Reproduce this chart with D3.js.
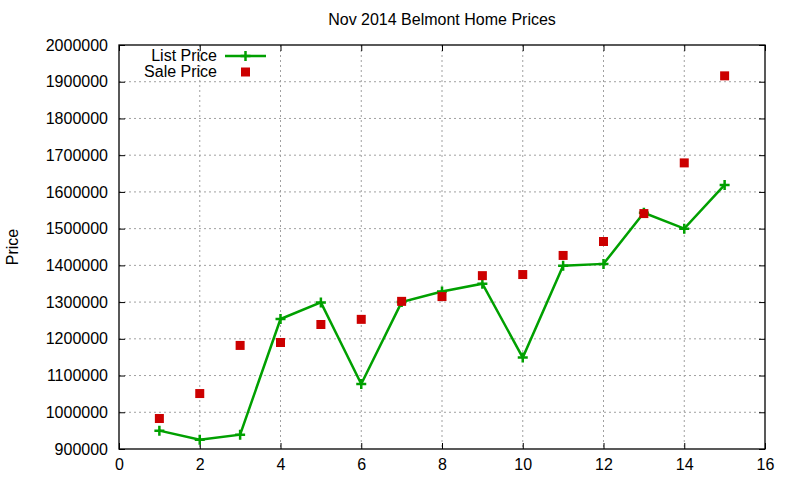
<!DOCTYPE html>
<html><head><meta charset="utf-8">
<script src="https://cdn.jsdelivr.net/npm/d3@7"></script>
<style>body{margin:0;background:#fff}svg{display:block}text{font-family:"Liberation Sans",Arial,sans-serif}</style>
</head><body><svg id="c" width="800" height="480"></svg>
<script>
const xs = [1,2,3,4,5,6,7,8,9,10,11,12,13,14,15];
const listPrice = [950000,925000,939000,1254000,1299000,1077000,1300000,1329000,1350000,1149000,1399000,1404000,1543000,1500000,1619000];
const salePrice = [983000,1051000,1182000,1190000,1239000,1253000,1302000,1315000,1372000,1375000,1427000,1465000,1541000,1679000,1916000];
const xTicks = [0,2,4,6,8,10,12,14,16];
const yTicks = [900000,1000000,1100000,1200000,1300000,1400000,1500000,1600000,1700000,1800000,1900000,2000000];
const title = "Nov 2014 Belmont Home Prices";
const yLabel = "Price";
const seriesNames = ["List Price","Sale Price"];

const svg = d3.select("#c");
const L=119, R=765, T=45, B=449;
const x = d3.scaleLinear().domain([0,16]).range([L,R]);
const y = d3.scaleLinear().domain([900000,2000000]).range([B,T]);
const green="#00a000", red="#cc0000";

// grid
const g = svg.append("g");
g.selectAll(".gx").data(xTicks.slice(1,-1)).join("line")
  .attr("x1",d=>x(d)).attr("x2",d=>x(d)).attr("y1",T).attr("y2",B)
  .attr("stroke","#a0a0a0").attr("stroke-dasharray","2,3").attr("stroke-width",1);
g.selectAll(".gy").data(yTicks.slice(1,-1)).join("line")
  .attr("x1",L).attr("x2",R).attr("y1",d=>y(d)).attr("y2",d=>y(d))
  .attr("stroke","#a0a0a0").attr("stroke-dasharray","2,3").attr("stroke-width",1);

// axes
const ax = d3.axisBottom(x).tickValues(xTicks).tickSize(-6).tickPadding(10).tickFormat(d3.format("d"));
const axT = d3.axisTop(x).tickValues(xTicks).tickSize(-6).tickFormat("");
const ay = d3.axisLeft(y).tickValues(yTicks).tickSize(-6).tickPadding(11).tickFormat(d3.format("d"));
const ayR = d3.axisRight(y).tickValues(yTicks).tickSize(-6).tickFormat("");
function style(sel){sel.select(".domain").remove();sel.selectAll("line").attr("stroke","#000");sel.selectAll("text").attr("font-size",16).attr("fill","#000").attr("font-family","Liberation Sans, Arial, sans-serif");}
svg.append("g").attr("transform",`translate(0,${B})`).call(ax).call(style);
svg.append("g").attr("transform",`translate(0,${T})`).call(axT).call(style);
svg.append("g").attr("transform",`translate(${L},0)`).call(ay).call(style);
svg.append("g").attr("transform",`translate(${R},0)`).call(ayR).call(style);
svg.append("rect").attr("x",L).attr("y",T).attr("width",R-L).attr("height",B-T)
  .attr("fill","none").attr("stroke","#000").attr("stroke-width",1.3);

// list line
const pts = xs.map((d,i)=>[d,listPrice[i]]);
svg.append("path").datum(pts).attr("fill","none").attr("stroke",green).attr("stroke-width",2.5)
  .attr("d",d3.line().x(d=>x(d[0])).y(d=>y(d[1])));
function plus(sel,cx,cy){sel.append("path").attr("d",`M${cx-5},${cy}H${cx+5}M${cx},${cy-5}V${cy+5}`).attr("stroke",green).attr("stroke-width",2.5);}
pts.forEach(p=>plus(svg,x(p[0]),y(p[1])));
// sale squares
svg.selectAll(".sq").data(salePrice).join("rect")
  .attr("x",(d,i)=>x(xs[i])-4.5).attr("y",d=>y(d)-4.5).attr("width",9).attr("height",9).attr("fill",red);

// legend
svg.append("text").attr("x",217).attr("y",61).attr("text-anchor","end").attr("font-size",16).text(seriesNames[0]);
svg.append("text").attr("x",217).attr("y",77).attr("text-anchor","end").attr("font-size",16).text(seriesNames[1]);
svg.append("line").attr("x1",225).attr("x2",266).attr("y1",56).attr("y2",56).attr("stroke",green).attr("stroke-width",2.5);
plus(svg,245.5,56);
svg.append("rect").attr("x",241).attr("y",67.5).attr("width",9).attr("height",9).attr("fill",red);

// title & label
svg.append("text").attr("x",442).attr("y",25).attr("text-anchor","middle").attr("font-size",16).text(title);
svg.append("text").attr("transform","translate(18,247) rotate(-90)").attr("text-anchor","middle").attr("font-size",16).text(yLabel);
</script></body></html>
